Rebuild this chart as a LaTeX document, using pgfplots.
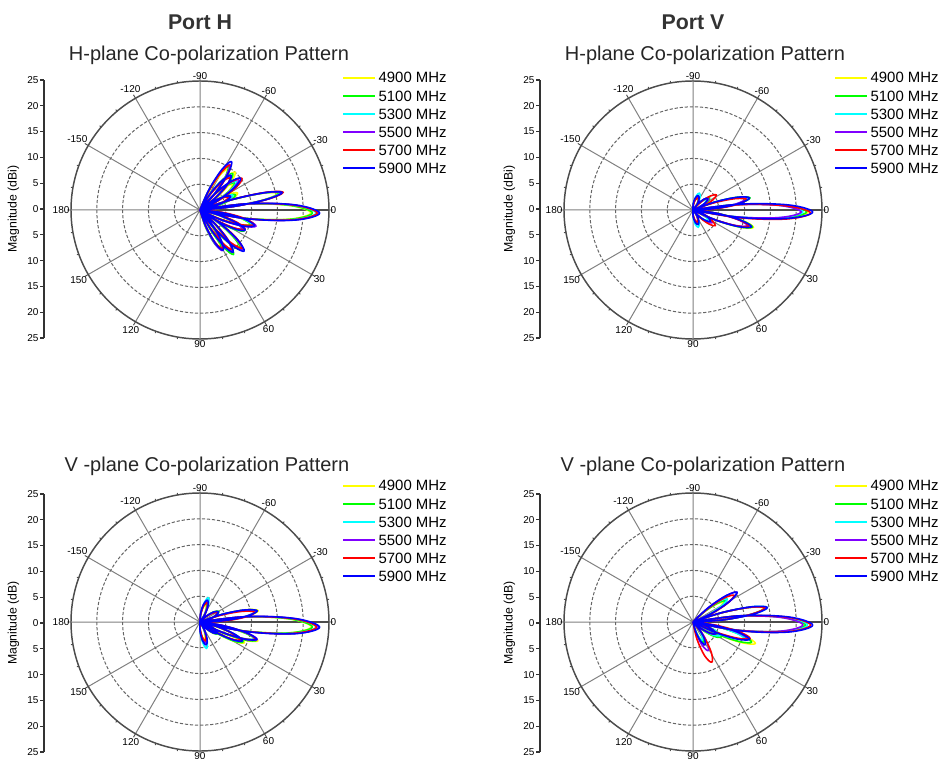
\documentclass[border=0pt]{standalone}
\usepackage{fontspec}
\setmainfont{Liberation Sans}
\usepackage{pgfplots}
\pgfplotsset{compat=1.18}
\usepgfplotslibrary{polar}
\definecolor{cY}{HTML}{FFFF00}
\definecolor{cG}{HTML}{00FF00}
\definecolor{cC}{HTML}{00FFFF}
\definecolor{cP}{HTML}{8000FF}
\definecolor{cR}{HTML}{FF0000}
\definecolor{cB}{HTML}{0000FF}
\newcommand{\ticksize}{\fontsize{7.5}{8}\selectfont}
\newcommand{\labsize}{\fontsize{9.2}{10}\selectfont}
\newcommand{\legfont}{\fontsize{11.2}{12}\selectfont}
\newcommand{\titfont}{\fontsize{15}{17}\selectfont}
\newcommand{\portfont}{\fontsize{16}{18}\selectfont\bfseries}
\pgfplotsset{
 mypolar/.style={
  scale only axis, width=193.5pt, height=193.5pt, anchor=center,
  xmin=0, xmax=360, ymin=0, ymax=25,
  ytick={5,10,15,20}, yticklabels={}, ytick style={draw=none},
  xtick={0,30,...,330},
  xticklabels={0,-30,-60,-90,-120,-150,180,150,120,90,60,30},
  xmajorgrids, ymajorgrids,
  x grid style={black!50, line width=0.75pt},
  y grid style={black!60, line width=0.75pt, dash pattern=on 2.4pt off 1.4pt},
  axis line style={black!70, line width=1.1pt},
  major tick length=3pt, minor tick length=1.5pt,
  tick style={black!70, line width=0.7pt},
  minor x tick num=2,
  xticklabel style={font=\ticksize, inner sep=1pt},
  x filter/.expression={-x},
  unbounded coords=jump,
  every axis plot/.append style={smooth, tension=0.6, line width=1.2pt, line join=round, mark=none},
 },
 magaxis/.style={
  scale only axis, width=20pt, height=193.5pt, anchor=north west,
  xmin=0, xmax=1, ymin=-25, ymax=25,
  axis x line=none, axis y line=left,
  axis line style={-, black!80, line width=1.1pt},
  ytick={-25,-20,...,25}, yticklabels={25,20,15,10,5,0,5,10,15,20,25},
  tick align=outside, major tick length=3pt,
  tick style={black!80, line width=0.8pt},
  yticklabel style={font=\ticksize, inner sep=1pt},
  every axis y label/.style={at={(axis description cs:-1.15,0.5)}, rotate=90, anchor=center, font=\labsize},
 },
}
\newcommand{\freqlegend}[2]{%
  \foreach \col/\lab [count=\i from 0] in {cY/4900,cG/5100,cC/5300,cP/5500,cR/5700,cB/5900}{
    \draw[\col, line width=1.4pt] ({#1pt},{#2pt-\i*13.6pt}) -- ++(24pt,0pt);
    \node[anchor=west, inner sep=0pt, font=\legfont] at ({#1pt+26.5pt},{#2pt-\i*13.6pt}) {\lab\ MHz};
  }}
\begin{document}
\begin{tikzpicture}
\path[use as bounding box] (0,0) rectangle (704.25pt,568.5pt);

% ---------------- Port H, H-plane ----------------
\begin{axis}[magaxis, at={(33pt,508.5pt)}, ylabel={Magnitude (dBi)}]
\end{axis}
\begin{polaraxis}[mypolar, at={(150pt,411pt)}]
\addplot[cY] coordinates {
(-56,0) (-65,3.8) (-60.5,7.6) (-56,9.5) (-51.5,7.6) (-47,3.8) (-56,0) (nan,nan)
(-47,0) (-57,4) (-52,8) (-47,10) (-42,8) (-37,4) (-47,0) (nan,nan)
(-38,0) (-48,3.2) (-43,6.4) (-38,8) (-33,6.4) (-28,3.2) (-38,0) (nan,nan)
(-24,0) (-34,3.2) (-29,6.4) (-24,8) (-19,6.4) (-14,3.2) (-24,0) (nan,nan)
(-12,0) (-18,6.2) (-15,12.4) (-12,15.5) (-9,12.4) (-6,6.2) (-12,0) (nan,nan)
(1.5,0) (-7.5,8.6) (-3,17.2) (1.5,21.5) (6,17.2) (10.5,8.6) (1.5,0) (nan,nan)
(16,0) (7,4) (11.5,8) (16,10) (20.5,8) (25,4) (16,0) (nan,nan)
(24,0) (15,3.6) (19.5,7.2) (24,9) (28.5,7.2) (33,3.6) (24,0) (nan,nan)
(44,0) (35,4.4) (39.5,8.8) (44,11) (48.5,8.8) (53,4.4) (44,0) (nan,nan)
(53,0) (44,4.2) (48.5,8.4) (53,10.5) (57.5,8.4) (62,4.2) (53,0) (nan,nan)
(62,0) (52,3.2) (57,6.4) (62,8) (67,6.4) (72,3.2) (62,0)};
\addplot[cG] coordinates {
(-57,0) (-66,4) (-61.5,8) (-57,10) (-52.5,8) (-48,4) (-57,0) (nan,nan)
(-48,0) (-58,3.8) (-53,7.6) (-48,9.5) (-43,7.6) (-38,3.8) (-48,0) (nan,nan)
(-38,0) (-48,3.4) (-43,6.8) (-38,8.5) (-33,6.8) (-28,3.4) (-38,0) (nan,nan)
(-23,0) (-33,3) (-28,6) (-23,7.5) (-18,6) (-13,3) (-23,0) (nan,nan)
(-12,0) (-18,6.3) (-15,12.6) (-12,15.7) (-9,12.6) (-6,6.3) (-12,0) (nan,nan)
(1.5,0) (-7.5,8.7) (-3,17.4) (1.5,21.8) (6,17.4) (10.5,8.7) (1.5,0) (nan,nan)
(16,0) (7,4.1) (11.5,8.2) (16,10.2) (20.5,8.2) (25,4.1) (16,0) (nan,nan)
(25,0) (16,3.8) (20.5,7.6) (25,9.5) (29.5,7.6) (34,3.8) (25,0) (nan,nan)
(44,0) (35,4.4) (39.5,8.8) (44,11) (48.5,8.8) (53,4.4) (44,0) (nan,nan)
(53,0) (44,4.3) (48.5,8.6) (53,10.8) (57.5,8.6) (62,4.3) (53,0) (nan,nan)
(62,0) (52,3.4) (57,6.8) (62,8.5) (67,6.8) (72,3.4) (62,0)};
\addplot[cC] coordinates {
(-57,0) (-66,4.2) (-61.5,8.4) (-57,10.5) (-52.5,8.4) (-48,4.2) (-57,0) (nan,nan)
(-48,0) (-58,3.6) (-53,7.2) (-48,9) (-43,7.2) (-38,3.6) (-48,0) (nan,nan)
(-38,0) (-48,3.6) (-43,7.2) (-38,9) (-33,7.2) (-28,3.6) (-38,0) (nan,nan)
(-24,0) (-34,2.8) (-29,5.6) (-24,7) (-19,5.6) (-14,2.8) (-24,0) (nan,nan)
(-12,0) (-18,6.4) (-15,12.8) (-12,16) (-9,12.8) (-6,6.4) (-12,0) (nan,nan)
(1.5,0) (-7.5,9) (-3,18) (1.5,22.5) (6,18) (10.5,9) (1.5,0) (nan,nan)
(16,0) (7,4.2) (11.5,8.4) (16,10.5) (20.5,8.4) (25,4.2) (16,0) (nan,nan)
(24,0) (15,3.7) (19.5,7.4) (24,9.2) (28.5,7.4) (33,3.7) (24,0) (nan,nan)
(43,0) (34,4.5) (38.5,9) (43,11.3) (47.5,9) (52,4.5) (43,0) (nan,nan)
(52,0) (43,4.1) (47.5,8.2) (52,10.2) (56.5,8.2) (61,4.1) (52,0) (nan,nan)
(61,0) (51,3.5) (56,7) (61,8.8) (66,7) (71,3.5) (61,0)};
\addplot[cP] coordinates {
(-57,0) (-66,4.2) (-61.5,8.4) (-57,10.5) (-52.5,8.4) (-48,4.2) (-57,0) (nan,nan)
(-48,0) (-58,3.6) (-53,7.2) (-48,9) (-43,7.2) (-38,3.6) (-48,0) (nan,nan)
(-38,0) (-48,3.8) (-43,7.6) (-38,9.5) (-33,7.6) (-28,3.8) (-38,0) (nan,nan)
(-24,0) (-34,2.6) (-29,5.2) (-24,6.5) (-19,5.2) (-14,2.6) (-24,0) (nan,nan)
(-12,0) (-18,6.5) (-15,13) (-12,16.2) (-9,13) (-6,6.5) (-12,0) (nan,nan)
(1.5,0) (-7.5,9.2) (-3,18.4) (1.5,23) (6,18.4) (10.5,9.2) (1.5,0) (nan,nan)
(16,0) (7,4.5) (11.5,9) (16,11.3) (20.5,9) (25,4.5) (16,0) (nan,nan)
(24,0) (15,3.6) (19.5,7.2) (24,9) (28.5,7.2) (33,3.6) (24,0) (nan,nan)
(43,0) (34,4.5) (38.5,9) (43,11.3) (47.5,9) (52,4.5) (43,0) (nan,nan)
(52,0) (43,4) (47.5,8) (52,10) (56.5,8) (61,4) (52,0) (nan,nan)
(61,0) (51,3.6) (56,7.2) (61,9) (66,7.2) (71,3.6) (61,0)};
\addplot[cR] coordinates {
(-56,0) (-65,4.2) (-60.5,8.4) (-56,10.5) (-51.5,8.4) (-47,4.2) (-56,0) (nan,nan)
(-47,0) (-57,3.4) (-52,6.8) (-47,8.5) (-42,6.8) (-37,3.4) (-47,0) (nan,nan)
(-37,0) (-47,4.1) (-42,8.2) (-37,10.2) (-32,8.2) (-27,4.1) (-37,0) (nan,nan)
(-24,0) (-34,2.4) (-29,4.8) (-24,6) (-19,4.8) (-14,2.4) (-24,0) (nan,nan)
(-12,0) (-18,6.6) (-15,13.2) (-12,16.5) (-9,13.2) (-6,6.6) (-12,0) (nan,nan)
(1.5,0) (-7.5,9.1) (-3,18.2) (1.5,22.7) (6,18.2) (10.5,9.1) (1.5,0) (nan,nan)
(15,0) (6,4.3) (10.5,8.6) (15,10.8) (19.5,8.6) (24,4.3) (15,0) (nan,nan)
(23,0) (14,3.8) (18.5,7.6) (23,9.5) (27.5,7.6) (32,3.8) (23,0) (nan,nan)
(42,0) (33,4.4) (37.5,8.8) (42,11) (46.5,8.8) (51,4.4) (42,0) (nan,nan)
(51,0) (42,3.9) (46.5,7.8) (51,9.8) (55.5,7.8) (60,3.9) (51,0) (nan,nan)
(60,0) (50,3.4) (55,6.9) (60,8.6) (65,6.9) (70,3.4) (60,0)};
\addplot[cB] coordinates {
(-57,0) (-66,4.5) (-61.5,9) (-57,11.2) (-52.5,9) (-48,4.5) (-57,0) (nan,nan)
(-48,0) (-58,3.6) (-53,7.2) (-48,9) (-43,7.2) (-38,3.6) (-48,0) (nan,nan)
(-38,0) (-48,4) (-43,8) (-38,10) (-33,8) (-28,4) (-38,0) (nan,nan)
(-24,0) (-34,2.6) (-29,5.2) (-24,6.5) (-19,5.2) (-14,2.6) (-24,0) (nan,nan)
(-12,0) (-18,6.5) (-15,13) (-12,16.3) (-9,13) (-6,6.5) (-12,0) (nan,nan)
(1.5,0) (-7.5,9.3) (-3,18.6) (1.5,23.2) (6,18.6) (10.5,9.3) (1.5,0) (nan,nan)
(16,0) (7,4.4) (11.5,8.8) (16,11) (20.5,8.8) (25,4.4) (16,0) (nan,nan)
(24,0) (15,3.8) (19.5,7.7) (24,9.6) (28.5,7.7) (33,3.8) (24,0) (nan,nan)
(43,0) (34,4.7) (38.5,9.4) (43,11.7) (47.5,9.4) (52,4.7) (43,0) (nan,nan)
(52,0) (43,4.2) (47.5,8.3) (52,10.4) (56.5,8.3) (61,4.2) (52,0) (nan,nan)
(60,0) (50,3.6) (55,7.2) (60,9) (65,7.2) (70,3.6) (60,0)};
\end{polaraxis}

% ---------------- Port V, H-plane ----------------
\begin{axis}[magaxis, at={(405pt,508.5pt)}, ylabel={Magnitude (dBi)}]
\end{axis}
\begin{polaraxis}[mypolar, at={(519.75pt,411pt)}]
\addplot[cY] coordinates {
(-70,0) (-88,1) (-79,2) (-70,2.5) (-61,2) (-52,1) (-70,0) (nan,nan)
(-36,0) (-50,1.4) (-43,2.8) (-36,3.5) (-29,2.8) (-22,1.4) (-36,0) (nan,nan)
(-12,0) (-20,4.4) (-16,8.8) (-12,11) (-8,8.8) (-4,4.4) (-12,0) (nan,nan)
(1,0) (-7,8.9) (-3,17.8) (1,22.3) (5,17.8) (9,8.9) (1,0) (nan,nan)
(16,0) (8,4.9) (12,9.8) (16,12.2) (20,9.8) (24,4.9) (16,0) (nan,nan)
(34,0) (20,1.6) (27,3.2) (34,4) (41,3.2) (48,1.6) (34,0) (nan,nan)
(72,0) (54,1) (63,2) (72,2.5) (81,2) (90,1) (72,0)};
\addplot[cG] coordinates {
(-70,0) (-88,1.1) (-79,2.2) (-70,2.8) (-61,2.2) (-52,1.1) (-70,0) (nan,nan)
(-36,0) (-50,1.6) (-43,3.2) (-36,4) (-29,3.2) (-22,1.6) (-36,0) (nan,nan)
(-12,0) (-20,4.5) (-16,9) (-12,11.3) (-8,9) (-4,4.5) (-12,0) (nan,nan)
(1,0) (-7,8.8) (-3,17.6) (1,22) (5,17.6) (9,8.8) (1,0) (nan,nan)
(16,0) (8,4.8) (12,9.6) (16,12) (20,9.6) (24,4.8) (16,0) (nan,nan)
(34,0) (20,1.7) (27,3.4) (34,4.2) (41,3.4) (48,1.7) (34,0) (nan,nan)
(72,0) (54,1.1) (63,2.2) (72,2.8) (81,2.2) (90,1.1) (72,0)};
\addplot[cC] coordinates {
(-69,0) (-85,1.4) (-77,2.8) (-69,3.5) (-61,2.8) (-53,1.4) (-69,0) (nan,nan)
(-36,0) (-50,1.3) (-43,2.6) (-36,3.2) (-29,2.6) (-22,1.3) (-36,0) (nan,nan)
(-12,0) (-20,4.3) (-16,8.6) (-12,10.8) (-8,8.6) (-4,4.3) (-12,0) (nan,nan)
(1,0) (-7,8.5) (-3,17) (1,21.3) (5,17) (9,8.5) (1,0) (nan,nan)
(16,0) (8,4.6) (12,9.2) (16,11.5) (20,9.2) (24,4.6) (16,0) (nan,nan)
(34,0) (20,1.4) (27,2.8) (34,3.5) (41,2.8) (48,1.4) (34,0) (nan,nan)
(73,0) (57,1.4) (65,2.8) (73,3.5) (81,2.8) (89,1.4) (73,0)};
\addplot[cP] coordinates {
(-68,0) (-86,1.1) (-77,2.2) (-68,2.8) (-59,2.2) (-50,1.1) (-68,0) (nan,nan)
(-37,0) (-51,1.5) (-44,3) (-37,3.8) (-30,3) (-23,1.5) (-37,0) (nan,nan)
(-12,0) (-20,4.2) (-16,8.4) (-12,10.5) (-8,8.4) (-4,4.2) (-12,0) (nan,nan)
(1,0) (-7,8.4) (-3,16.8) (1,21) (5,16.8) (9,8.4) (1,0) (nan,nan)
(16,0) (8,4.4) (12,8.8) (16,11) (20,8.8) (24,4.4) (16,0) (nan,nan)
(33,0) (19,1.8) (26,3.6) (33,4.5) (40,3.6) (47,1.8) (33,0) (nan,nan)
(72,0) (54,1) (63,2) (72,2.5) (81,2) (90,1) (72,0)};
\addplot[cR] coordinates {
(-68,0) (-86,1) (-77,2) (-68,2.5) (-59,2) (-50,1) (-68,0) (nan,nan)
(-33,0) (-45,2.2) (-39,4.3) (-33,5.4) (-27,4.3) (-21,2.2) (-33,0) (nan,nan)
(-11,0) (-19,4.2) (-15,8.5) (-11,10.6) (-7,8.5) (-3,4.2) (-11,0) (nan,nan)
(1.5,0) (-6.5,9.1) (-2.5,18.2) (1.5,22.8) (5.5,18.2) (9.5,9.1) (1.5,0) (nan,nan)
(16,0) (8,4.5) (12,9) (16,11.3) (20,9) (24,4.5) (16,0) (nan,nan)
(35,0) (23,2.1) (29,4.2) (35,5.3) (41,4.2) (47,2.1) (35,0) (nan,nan)
(70,0) (52,1) (61,2) (70,2.5) (79,2) (88,1) (70,0)};
\addplot[cB] coordinates {
(-70,0) (-88,1.2) (-79,2.4) (-70,3) (-61,2.4) (-52,1.2) (-70,0) (nan,nan)
(-38,0) (-52,1.4) (-45,2.9) (-38,3.6) (-31,2.9) (-24,1.4) (-38,0) (nan,nan)
(-12,0) (-20,4.5) (-16,9) (-12,11.2) (-8,9) (-4,4.5) (-12,0) (nan,nan)
(1,0) (-7,9.3) (-3,18.6) (1,23.2) (5,18.6) (9,9.3) (1,0) (nan,nan)
(16,0) (8,4.7) (12,9.4) (16,11.8) (20,9.4) (24,4.7) (16,0) (nan,nan)
(33,0) (19,1.6) (26,3.2) (33,4) (40,3.2) (47,1.6) (33,0) (nan,nan)
(71,0) (53,1.2) (62,2.4) (71,3) (80,2.4) (89,1.2) (71,0)};
\end{polaraxis}

% ---------------- Port H, V-plane ----------------
\begin{axis}[magaxis, at={(33pt,198pt)}, ylabel={Magnitude (dB)}]
\end{axis}
\begin{polaraxis}[mypolar, at={(150pt,102pt)}]
\addplot[cY] coordinates {
(-72,0) (-86,1.4) (-79,2.8) (-72,3.5) (-65,2.8) (-58,1.4) (-72,0) (nan,nan)
(-30,0) (-44,1.6) (-37,3.2) (-30,4) (-23,3.2) (-16,1.6) (-30,0) (nan,nan)
(-11,0) (-19,4.6) (-15,9.2) (-11,11.5) (-7,9.2) (-3,4.6) (-11,0) (nan,nan)
(2.5,0) (-6.5,8.6) (-2,17.3) (2.5,21.6) (7,17.3) (11.5,8.6) (2.5,0) (nan,nan)
(18,0) (10,4.7) (14,9.4) (18,11.8) (22,9.4) (26,4.7) (18,0) (nan,nan)
(25,0) (16,3.8) (20.5,7.6) (25,9.5) (29.5,7.6) (34,3.8) (25,0) (nan,nan)
(34,0) (20,1.6) (27,3.2) (34,4) (41,3.2) (48,1.6) (34,0) (nan,nan)
(76,0) (62,1.4) (69,2.8) (76,3.5) (83,2.8) (90,1.4) (76,0)};
\addplot[cG] coordinates {
(-72,0) (-86,1.5) (-79,3) (-72,3.8) (-65,3) (-58,1.5) (-72,0) (nan,nan)
(-29,0) (-43,1.7) (-36,3.4) (-29,4.2) (-22,3.4) (-15,1.7) (-29,0) (nan,nan)
(-11,0) (-19,4.5) (-15,9) (-11,11.3) (-7,9) (-3,4.5) (-11,0) (nan,nan)
(2.5,0) (-6.5,8.7) (-2,17.4) (2.5,21.8) (7,17.4) (11.5,8.7) (2.5,0) (nan,nan)
(18,0) (10,4.6) (14,9.2) (18,11.5) (22,9.2) (26,4.6) (18,0) (nan,nan)
(25,0) (16,3.7) (20.5,7.4) (25,9.2) (29.5,7.4) (34,3.7) (25,0) (nan,nan)
(33,0) (19,1.7) (26,3.4) (33,4.2) (40,3.4) (47,1.7) (33,0) (nan,nan)
(76,0) (62,1.6) (69,3.2) (76,4) (83,3.2) (90,1.6) (76,0)};
\addplot[cC] coordinates {
(-71,0) (-83,2) (-77,4) (-71,5) (-65,4) (-59,2) (-71,0) (nan,nan)
(-29,0) (-43,1.5) (-36,3) (-29,3.8) (-22,3) (-15,1.5) (-29,0) (nan,nan)
(-11,0) (-19,4.4) (-15,8.8) (-11,11) (-7,8.8) (-3,4.4) (-11,0) (nan,nan)
(2.5,0) (-6.5,9) (-2,18) (2.5,22.5) (7,18) (11.5,9) (2.5,0) (nan,nan)
(17,0) (9,4.4) (13,8.8) (17,11) (21,8.8) (25,4.4) (17,0) (nan,nan)
(24,0) (15,3.6) (19.5,7.2) (24,9) (28.5,7.2) (33,3.6) (24,0) (nan,nan)
(33,0) (19,1.5) (26,3) (33,3.8) (40,3) (47,1.5) (33,0) (nan,nan)
(76,0) (64,2.1) (70,4.2) (76,5.3) (82,4.2) (88,2.1) (76,0)};
\addplot[cP] coordinates {
(-72,0) (-86,1.7) (-79,3.4) (-72,4.2) (-65,3.4) (-58,1.7) (-72,0) (nan,nan)
(-29,0) (-43,1.6) (-36,3.2) (-29,4) (-22,3.2) (-15,1.6) (-29,0) (nan,nan)
(-11,0) (-19,4.5) (-15,9) (-11,11.2) (-7,9) (-3,4.5) (-11,0) (nan,nan)
(2.5,0) (-6.5,9.2) (-2,18.4) (2.5,23) (7,18.4) (11.5,9.2) (2.5,0) (nan,nan)
(17,0) (9,4.6) (13,9.3) (17,11.6) (21,9.3) (25,4.6) (17,0) (nan,nan)
(24,0) (15,3.5) (19.5,7) (24,8.8) (28.5,7) (33,3.5) (24,0) (nan,nan)
(33,0) (19,1.6) (26,3.2) (33,4) (40,3.2) (47,1.6) (33,0) (nan,nan)
(75,0) (61,1.7) (68,3.4) (75,4.2) (82,3.4) (89,1.7) (75,0)};
\addplot[cR] coordinates {
(-70,0) (-84,1.6) (-77,3.2) (-70,4) (-63,3.2) (-56,1.6) (-70,0) (nan,nan)
(-28,0) (-42,1.5) (-35,3) (-28,3.8) (-21,3) (-14,1.5) (-28,0) (nan,nan)
(-10,0) (-18,4.3) (-14,8.6) (-10,10.8) (-6,8.6) (-2,4.3) (-10,0) (nan,nan)
(2.5,0) (-6.5,9) (-2,18.1) (2.5,22.6) (7,18.1) (11.5,9) (2.5,0) (nan,nan)
(17,0) (9,4.5) (13,9) (17,11.2) (21,9) (25,4.5) (17,0) (nan,nan)
(24,0) (15,3.4) (19.5,6.8) (24,8.5) (28.5,6.8) (33,3.4) (24,0) (nan,nan)
(32,0) (18,1.4) (25,2.9) (32,3.6) (39,2.9) (46,1.4) (32,0) (nan,nan)
(74,0) (60,1.5) (67,3) (74,3.8) (81,3) (88,1.5) (74,0)};
\addplot[cB] coordinates {
(-71,0) (-85,1.8) (-78,3.6) (-71,4.5) (-64,3.6) (-57,1.8) (-71,0) (nan,nan)
(-29,0) (-43,1.6) (-36,3.3) (-29,4.1) (-22,3.3) (-15,1.6) (-29,0) (nan,nan)
(-11,0) (-19,4.5) (-15,9) (-11,11.3) (-7,9) (-3,4.5) (-11,0) (nan,nan)
(2.5,0) (-6.5,9.3) (-2,18.6) (2.5,23.2) (7,18.6) (11.5,9.3) (2.5,0) (nan,nan)
(17,0) (9,4.6) (13,9.2) (17,11.5) (21,9.2) (25,4.6) (17,0) (nan,nan)
(24,0) (15,3.6) (19.5,7.2) (24,9) (28.5,7.2) (33,3.6) (24,0) (nan,nan)
(33,0) (19,1.6) (26,3.2) (33,4) (40,3.2) (47,1.6) (33,0) (nan,nan)
(75,0) (61,1.8) (68,3.7) (75,4.6) (82,3.7) (89,1.8) (75,0)};
\end{polaraxis}

% ---------------- Port V, V-plane ----------------
\begin{axis}[magaxis, at={(405pt,198pt)}, ylabel={Magnitude (dB)}]
\end{axis}
\begin{polaraxis}[mypolar, at={(519.75pt,102pt)}]
\addplot[cY] coordinates {
(-33,0) (-42,2.8) (-37.5,5.6) (-33,7) (-28.5,5.6) (-24,2.8) (-33,0) (nan,nan)
(-11,0) (-18,5.6) (-14.5,11.2) (-11,14) (-7.5,11.2) (-4,5.6) (-11,0) (nan,nan)
(1.5,0) (-7.5,8.6) (-3,17.2) (1.5,21.5) (6,17.2) (10.5,8.6) (1.5,0) (nan,nan)
(19,0) (11,5.1) (15,10.2) (19,12.8) (23,10.2) (27,5.1) (19,0) (nan,nan)
(29,0) (17,2.2) (23,4.4) (29,5.5) (35,4.4) (41,2.2) (29,0) (nan,nan)
(62,0) (50,1.6) (56,3.2) (62,4) (68,3.2) (74,1.6) (62,0)};
\addplot[cG] coordinates {
(-33,0) (-42,3) (-37.5,6) (-33,7.5) (-28.5,6) (-24,3) (-33,0) (nan,nan)
(-11,0) (-18,5.7) (-14.5,11.4) (-11,14.2) (-7.5,11.4) (-4,5.7) (-11,0) (nan,nan)
(1.5,0) (-7.5,8.7) (-3,17.4) (1.5,21.8) (6,17.4) (10.5,8.7) (1.5,0) (nan,nan)
(19,0) (11,4.8) (15,9.6) (19,12) (23,9.6) (27,4.8) (19,0) (nan,nan)
(28,0) (16,2.5) (22,5) (28,6.2) (34,5) (40,2.5) (28,0) (nan,nan)
(62,0) (50,1.8) (56,3.6) (62,4.5) (68,3.6) (74,1.8) (62,0)};
\addplot[cC] coordinates {
(-34,0) (-43,3.2) (-38.5,6.4) (-34,8) (-29.5,6.4) (-25,3.2) (-34,0) (nan,nan)
(-11,0) (-18,5.9) (-14.5,11.8) (-11,14.7) (-7.5,11.8) (-4,5.9) (-11,0) (nan,nan)
(1.5,0) (-7.5,8.9) (-3,17.8) (1.5,22.2) (6,17.8) (10.5,8.9) (1.5,0) (nan,nan)
(18,0) (10,4.2) (14,8.4) (18,10.5) (22,8.4) (26,4.2) (18,0) (nan,nan)
(27,0) (15,2.3) (21,4.6) (27,5.8) (33,4.6) (39,2.3) (27,0) (nan,nan)
(63,0) (51,1.6) (57,3.2) (63,4) (69,3.2) (75,1.6) (63,0)};
\addplot[cP] coordinates {
(-34,0) (-43,4.1) (-38.5,8.2) (-34,10.3) (-29.5,8.2) (-25,4.1) (-34,0) (nan,nan)
(-11,0) (-18,5.7) (-14.5,11.4) (-11,14.3) (-7.5,11.4) (-4,5.7) (-11,0) (nan,nan)
(1.5,0) (-7.5,8.5) (-3,17) (1.5,21.3) (6,17) (10.5,8.5) (1.5,0) (nan,nan)
(17,0) (9,4.4) (13,8.8) (17,11) (21,8.8) (25,4.4) (17,0) (nan,nan)
(27,0) (15,2) (21,4) (27,5) (33,4) (39,2) (27,0) (nan,nan)
(62,0) (50,2.5) (56,5) (62,6.3) (68,5) (74,2.5) (62,0)};
\addplot[cR] coordinates {
(-33,0) (-42,3.8) (-37.5,7.6) (-33,9.5) (-28.5,7.6) (-24,3.8) (-33,0) (nan,nan)
(-11,0) (-18,5.7) (-14.5,11.4) (-11,14.2) (-7.5,11.4) (-4,5.7) (-11,0) (nan,nan)
(1.5,0) (-7.5,9.1) (-3,18.2) (1.5,22.8) (6,18.2) (10.5,9.1) (1.5,0) (nan,nan)
(16,0) (8,4.6) (12,9.2) (16,11.5) (20,9.2) (24,4.6) (16,0) (nan,nan)
(27,0) (15,2) (21,4) (27,5) (33,4) (39,2) (27,0) (nan,nan)
(65,0) (53,3.4) (59,6.9) (65,8.6) (71,6.9) (77,3.4) (65,0)};
\addplot[cB] coordinates {
(-34,0) (-43,4.1) (-38.5,8.2) (-34,10.3) (-29.5,8.2) (-25,4.1) (-34,0) (nan,nan)
(-11,0) (-18,5.9) (-14.5,11.8) (-11,14.7) (-7.5,11.8) (-4,5.9) (-11,0) (nan,nan)
(1.5,0) (-7.5,9.3) (-3,18.6) (1.5,23.2) (6,18.6) (10.5,9.3) (1.5,0) (nan,nan)
(17,0) (9,4.6) (13,9.2) (17,11.5) (21,9.2) (25,4.6) (17,0) (nan,nan)
(27,0) (15,2) (21,4) (27,5) (33,4) (39,2) (27,0) (nan,nan)
(62,0) (50,2) (56,4) (62,5) (68,4) (74,2) (62,0)};
\end{polaraxis}

% ---------------- titles and legends ----------------
\node[font=\portfont, text=black!80] at (150pt,552pt) {Port H};
\node[font=\portfont, text=black!80] at (519.75pt,552pt) {Port V};
\node[font=\titfont, text=black!85] at (156.75pt,527.25pt) {H-plane Co-polarization Pattern};
\node[font=\titfont, text=black!85] at (528.75pt,527.25pt) {H-plane Co-polarization Pattern};
\node[font=\titfont, text=black!85] at (155.25pt,219pt) {V -plane Co-polarization Pattern};
\node[font=\titfont, text=black!85] at (527.25pt,219pt) {V -plane Co-polarization Pattern};
\freqlegend{257.25}{510.2}
\freqlegend{626.25}{510.2}
\freqlegend{257.25}{204.2}
\freqlegend{626.25}{204.2}
\end{tikzpicture}
\end{document}
